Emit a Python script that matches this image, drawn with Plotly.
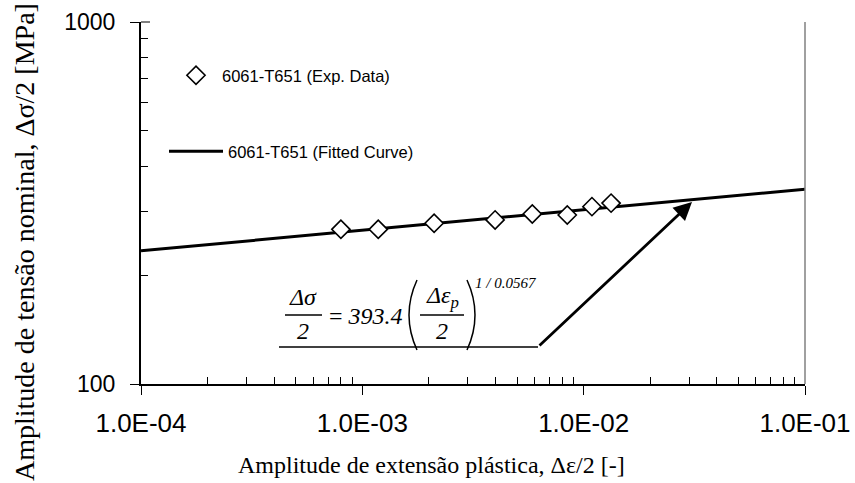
import plotly.graph_objects as go

# ---- data ----
exp_strain = [8.0e-4, 1.18e-3, 2.11e-3, 3.98e-3, 5.86e-3, 8.43e-3, 1.09e-2, 1.33e-2]
exp_stress = [267.5, 267.5, 278, 284, 295, 293, 309, 316]
fit_strain = [1.0e-4, 1.0e-1]
fit_stress = [233.3, 345.3]

x_tickvals = [1e-4, 1e-3, 1e-2, 1e-1]
x_ticktext = ["1.0E-04", "1.0E-03", "1.0E-02", "1.0E-01"]
y_tickvals = [100, 1000]
y_ticktext = ["100", "1000"]

W, H = 855, 483
L, R, T, B = 141, 805, 22, 384


def px(x):
    return (x - L) / (R - L)


def py(y):
    return (B - y) / (B - T)


SANS = "Liberation Sans, Arial, sans-serif"
SERIF = "Liberation Serif, Times New Roman, serif"

fig = go.Figure()
fig.add_trace(go.Scatter(
    x=fit_strain, y=fit_stress, mode="lines",
    line=dict(color="black", width=3),
    name="6061-T651 (Fitted Curve)", legend="legend2", showlegend=True))
fig.add_trace(go.Scatter(
    x=exp_strain, y=exp_stress, mode="markers",
    marker=dict(symbol="diamond", size=14, color="white",
                line=dict(color="black", width=1.6)),
    name="6061-T651 (Exp. Data)", legend="legend", showlegend=True))

x_minor = [k * 10.0 ** e for e in (-4, -3, -2) for k in range(2, 10)]
y_minor = [k * 100 for k in range(2, 10)]

fig.update_xaxes(
    type="log", range=[-4, -1], showline=True, linecolor="black", linewidth=1.5,
    ticks="outside", ticklen=9, tickwidth=1, tickcolor="black",
    tickvals=x_tickvals, ticktext=x_ticktext,
    tickfont=dict(family=SANS, size=26, color="black"),
    ticklabelstandoff=6, automargin=False,
    showgrid=False, zeroline=False,
    minor=dict(ticks="inside", ticklen=7, tickwidth=1, tickcolor="black",
               tickvals=x_minor, showgrid=False))
fig.update_yaxes(
    type="log", range=[2, 3], showline=True, linecolor="black", linewidth=2,
    ticks="outside", ticklen=9, tickwidth=1, tickcolor="black",
    tickvals=y_tickvals, ticktext=y_ticktext,
    tickfont=dict(family=SANS, size=23, color="black"),
    ticklabelstandoff=10, automargin=False,
    showgrid=False, zeroline=False,
    minor=dict(ticks="inside", ticklen=7, tickwidth=1, tickcolor="black",
               tickvals=y_minor, showgrid=False))

shapes = []
# right border
shapes.append(dict(type="line", xref="paper", yref="paper", x0=1, x1=1, y0=0, y1=1,
                   line=dict(color="#808080", width=1.5)))
# inward part of the top major tick
shapes.append(dict(type="line", xref="paper", yref="paper", x0=0, x1=px(150), y0=1, y1=1,
                   line=dict(color="black", width=1)))
# equation fraction bars and underline
for (x0, x1, y) in [(285, 322, 315), (420, 464, 315), (279, 538, 347)]:
    shapes.append(dict(type="line", xref="paper", yref="paper",
                       x0=px(x0), x1=px(x1), y0=py(y), y1=py(y),
                       line=dict(color="black", width=1.5)))
# big parentheses
shapes.append(dict(type="path", xref="paper", yref="paper",
                   path=f"M {px(417)},{py(280)} Q {px(401)},{py(315)} {px(417)},{py(350)}",
                   line=dict(color="black", width=1.5)))
shapes.append(dict(type="path", xref="paper", yref="paper",
                   path=f"M {px(467)},{py(280)} Q {px(483)},{py(315)} {px(467)},{py(350)}",
                   line=dict(color="black", width=1.5)))

ann = []
# axis titles
ann.append(dict(text="Amplitude de extensão plástica, Δε/2 [-]", xref="paper", yref="paper",
                x=px(431), y=py(465), showarrow=False, xanchor="center", yanchor="middle",
                font=dict(family=SERIF, size=24, color="black")))
ann.append(dict(text="Amplitude de tensão nominal, Δσ/2 [MPa]", xref="paper", yref="paper",
                x=px(24), y=py(242), showarrow=False, xanchor="center", yanchor="middle",
                textangle=-90, font=dict(family=SERIF, size=28, color="black")))


def eq(text, x, y, size=24):
    ann.append(dict(text=text, xref="paper", yref="paper", x=px(x), y=py(y),
                    showarrow=False, xanchor="center", yanchor="middle",
                    font=dict(family=SERIF, size=size, color="black")))


eq("<i>Δσ</i>", 302.5, 297)
eq("<i>2</i>", 302.5, 331)
eq("= <i>393.4</i>", 366, 316)
eq("<i>Δε<sub>p</sub></i>", 442, 297)
eq("<i>2</i>", 442, 331)
eq("<i>1 / 0.0567</i>", 506, 283, size=15)

# arrow
ann.append(dict(text="", xref="paper", yref="paper", x=px(692), y=py(202),
                ax=538 - 692, ay=347 - 202, showarrow=True, arrowhead=2,
                arrowsize=1.3, arrowwidth=2.8, arrowcolor="black", standoff=0,
                startstandoff=0))

fig.update_layout(
    width=W, height=H,
    margin=dict(l=L, r=W - R, t=T, b=H - B, pad=0, autoexpand=False),
    paper_bgcolor="white", plot_bgcolor="white",
    showlegend=True,
    shapes=shapes, annotations=ann,
    legend=dict(x=px(170), y=py(58), xanchor="left", yanchor="top",
                font=dict(family=SANS, size=16.5, color="black"),
                bgcolor="rgba(0,0,0,0)", itemwidth=42),
    legend2=dict(x=px(164), y=py(134), xanchor="left", yanchor="top",
                 font=dict(family=SANS, size=16.5, color="black"),
                 bgcolor="rgba(0,0,0,0)", itemwidth=54),
)

fig.write_html("out.html")
